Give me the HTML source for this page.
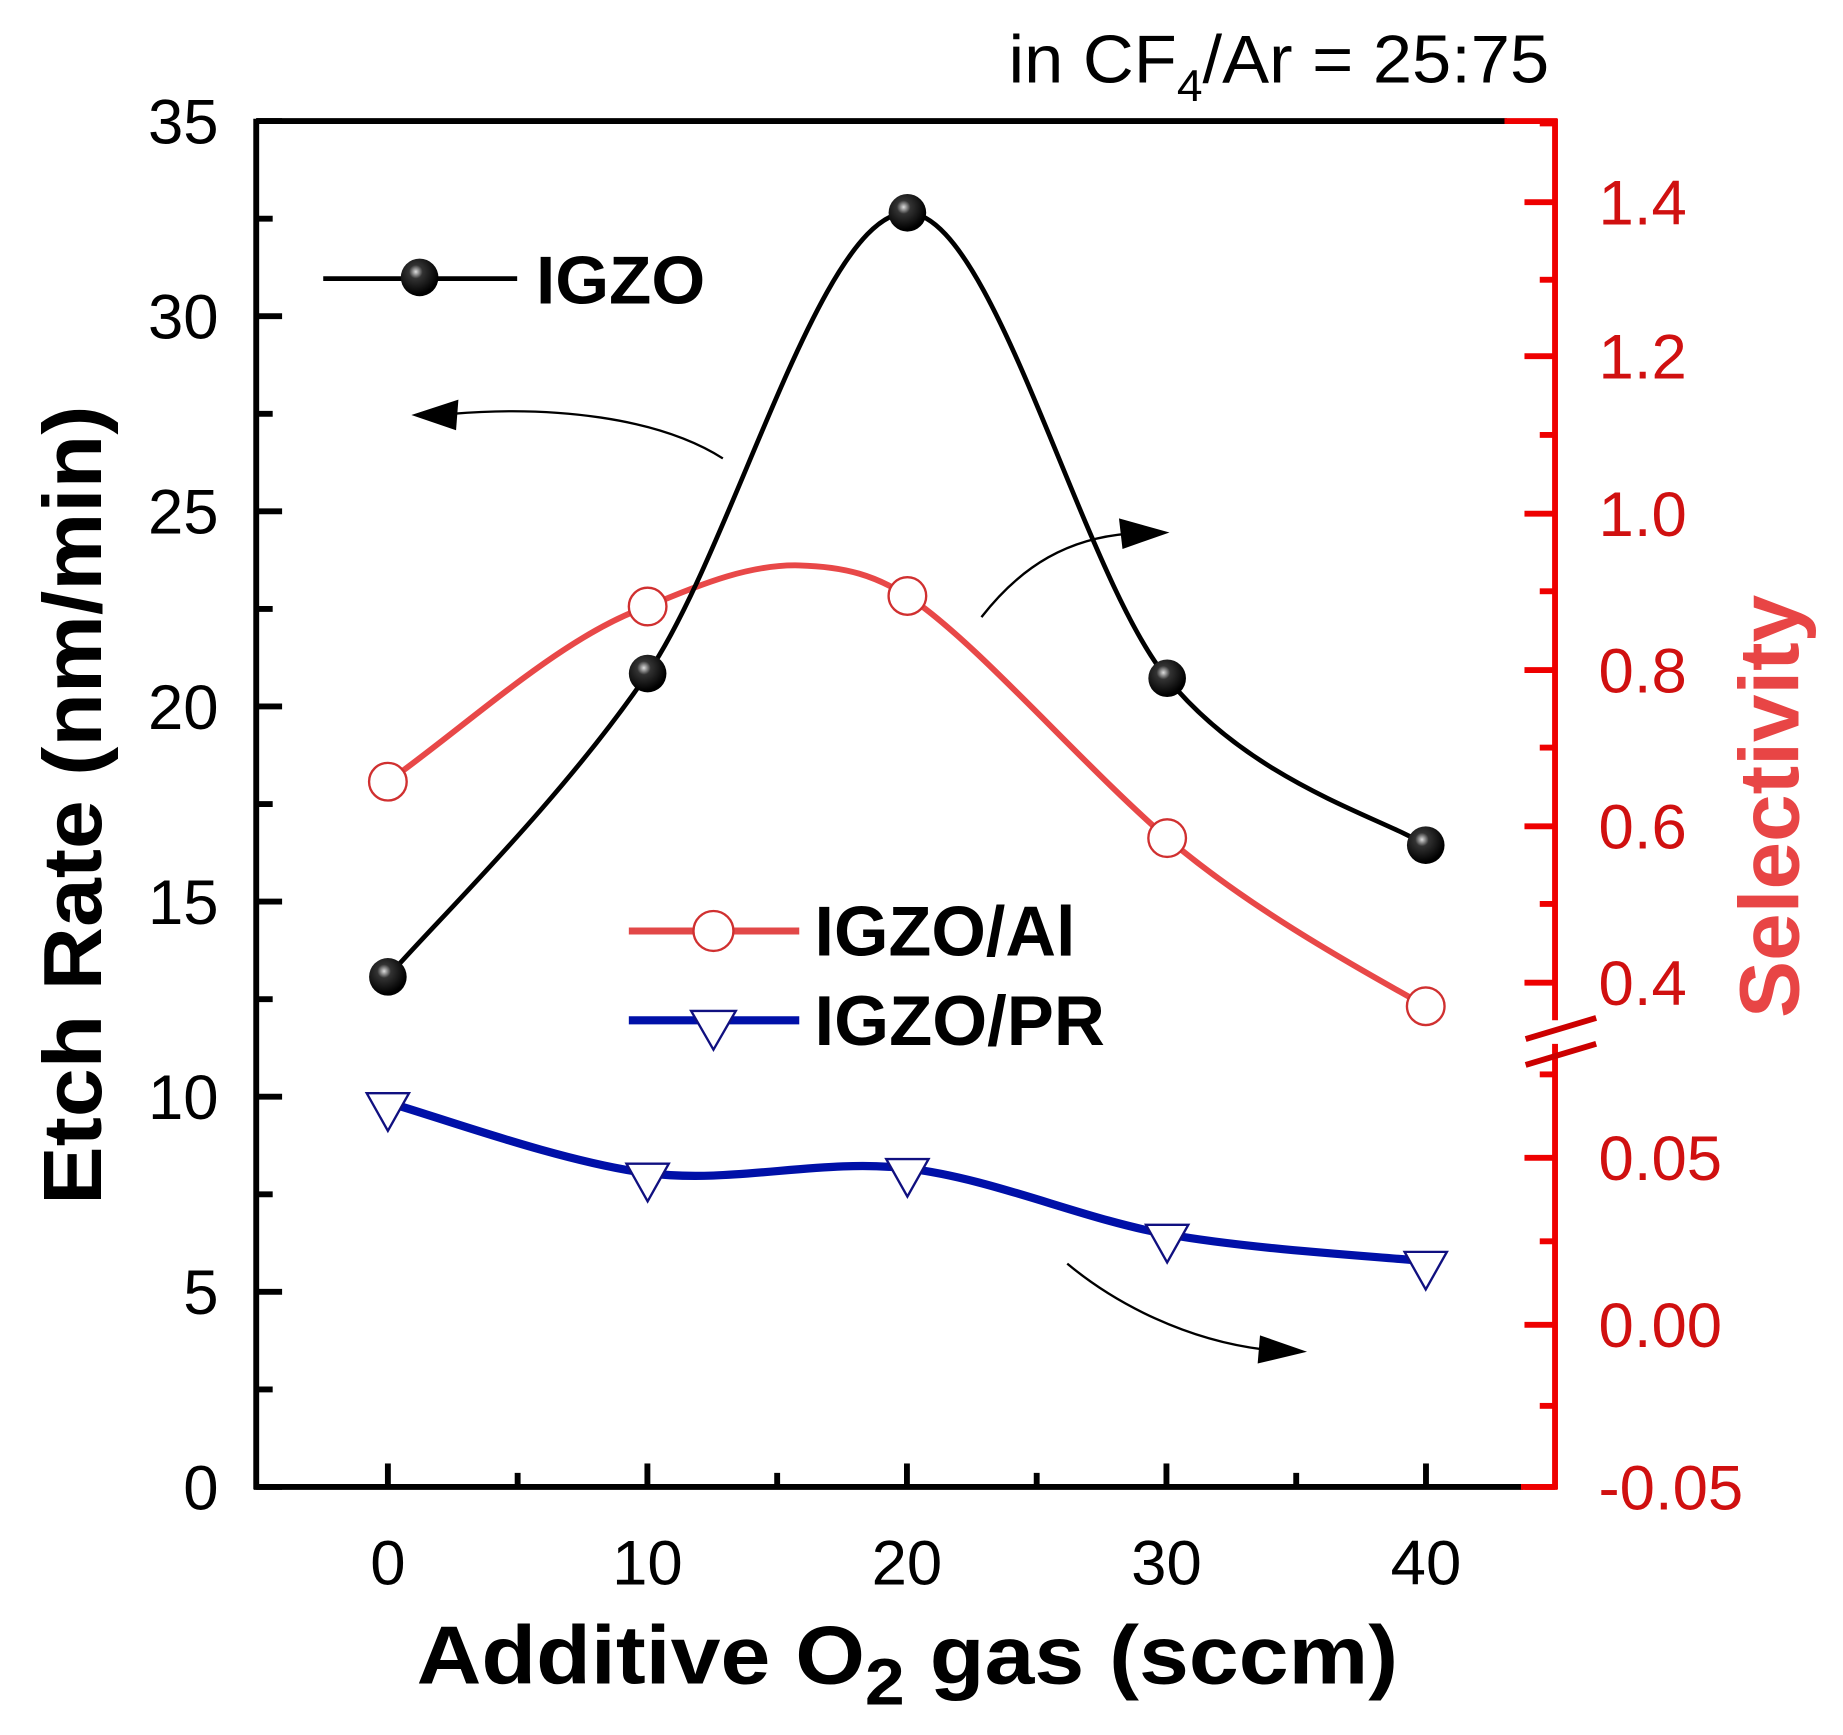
<!DOCTYPE html>
<html><head><meta charset="utf-8"><style>
html,body{margin:0;padding:0;background:#fff;}
svg{display:block;}
</style></head><body>
<svg id="s" width="1843" height="1735" viewBox="0 0 1568 1476" preserveAspectRatio="none" xmlns="http://www.w3.org/2000/svg" font-family="Liberation Sans, Arial, sans-serif">
<defs>
<radialGradient id="ball" cx="0.4" cy="0.35" r="0.6">
<stop offset="0" stop-color="#ddd"/><stop offset="0.3" stop-color="#333"/><stop offset="1" stop-color="#000"/>
</radialGradient>
</defs>
<rect width="1568" height="1476" fill="#fff"/>
<text x="1318" y="70" font-size="58" text-anchor="end" fill="#000" textLength="460" lengthAdjust="spacingAndGlyphs">in CF<tspan font-size="38" dy="16">4</tspan><tspan dy="-16">/Ar = 25:75</tspan></text>
<line x1="218" y1="103" x2="1282" y2="103" stroke="#000" stroke-width="5"/>
<line x1="1280" y1="103" x2="1325" y2="103" stroke="#e00" stroke-width="5"/>
<line x1="218" y1="101" x2="218" y2="1267" stroke="#000" stroke-width="5"/>
<line x1="216" y1="1265" x2="1296" y2="1265" stroke="#000" stroke-width="5"/>
<line x1="1294" y1="1265" x2="1325" y2="1265" stroke="#e00" stroke-width="5"/>
<line x1="1323" y1="101" x2="1323" y2="868" stroke="#e00" stroke-width="5"/>
<line x1="1323" y1="888" x2="1323" y2="1267" stroke="#e00" stroke-width="5"/>
<line x1="1298" y1="884" x2="1358" y2="866" stroke="#c00" stroke-width="5"/>
<line x1="1298" y1="906" x2="1358" y2="888" stroke="#c00" stroke-width="5"/>
<g id="ticks"></g>
<g font-size="54" fill="#000" text-anchor="end" id="ylab"></g>
<g font-size="54" fill="#d01010" id="rlab"></g>
<g font-size="54" fill="#000" text-anchor="middle" id="xlab"></g>
<text transform="translate(86,685) rotate(-90)" font-size="70" font-weight="bold" text-anchor="middle" fill="#000" textLength="680" lengthAdjust="spacingAndGlyphs">Etch Rate (nm/min)</text>
<text transform="translate(1530,686) rotate(-90)" font-size="72" font-weight="bold" text-anchor="middle" fill="#e84545" textLength="360" lengthAdjust="spacingAndGlyphs">Selectivity</text>
<text x="772" y="1432" font-size="70" font-weight="bold" text-anchor="middle" fill="#000" textLength="835" lengthAdjust="spacingAndGlyphs">Additive O<tspan font-size="56" dy="18">2</tspan><tspan dy="-18"> gas (sccm)</tspan></text>
<path d="M615,390 C560,355 470,345 385,352" fill="none" stroke="#000" stroke-width="2"/>
<polygon points="350,353 390,340 388,366" fill="#000"/>
<path d="M835,525 C870,480 910,458 960,454" fill="none" stroke="#000" stroke-width="2"/>
<polygon points="995,453 952,441 955,467" fill="#000"/>
<path d="M908,1075 C950,1110 1010,1140 1075,1148" fill="none" stroke="#000" stroke-width="2"/>
<polygon points="1112,1150 1072,1136 1070,1160" fill="#000"/>
<g id="series">
<path d="M330,665 C400,615 480,540 551,516 C600,495 640,480 680,481 C720,482 745,490 772,507 C830,545 920,650 993,713 C1060,770 1140,815 1213,856" fill="none" stroke="#e84848" stroke-width="5"/>
</g>
<line x1="275" y1="237" x2="440" y2="237" stroke="#000" stroke-width="4"/>
<circle cx="357" cy="236" r="16" fill="url(#ball)"/>
<text x="456" y="258" font-size="58" font-weight="bold" fill="#000" textLength="144" lengthAdjust="spacingAndGlyphs">IGZO</text>
<line x1="535" y1="792" x2="680" y2="792" stroke="#e24848" stroke-width="6"/>
<circle cx="607" cy="792" r="17" fill="#fff" stroke="#d03030" stroke-width="2"/>
<text x="693" y="813" font-size="60" font-weight="bold" fill="#000" textLength="222" lengthAdjust="spacingAndGlyphs">IGZO/Al</text>
<line x1="535" y1="868" x2="680" y2="868" stroke="#0010a8" stroke-width="7"/>
<polygon points="588,860 626,860 607,893" fill="#fff" stroke="#101080" stroke-width="2"/>
<text x="693" y="889" font-size="60" font-weight="bold" fill="#000" textLength="247" lengthAdjust="spacingAndGlyphs">IGZO/PR</text>
</svg>
<script>
var NS="http://www.w3.org/2000/svg";
function el(p,t,a,txt){var e=document.createElementNS(NS,t);for(var k in a)e.setAttribute(k,a[k]);if(txt!==undefined)e.textContent=txt;document.getElementById(p).appendChild(e);return e;}
for(var i=0;i<=14;i++){var y=1265-i*83;if(i%2==0){el('ticks','line',{x1:218,y1:y,x2:240,y2:y,stroke:'#000','stroke-width':5});el('ylab','text',{x:186,y:y+19},String(i*2.5));}else el('ticks','line',{x1:218,y1:y,x2:232,y2:y,stroke:'#000','stroke-width':5});}
for(var i=0;i<=8;i++){var x=330+i*110.4;if(i%2==0){el('ticks','line',{x1:x,y1:1265,x2:x,y2:1245,stroke:'#000','stroke-width':5});el('xlab','text',{x:x,y:1348},String(i*5));}else el('ticks','line',{x1:x,y1:1265,x2:x,y2:1253,stroke:'#000','stroke-width':5});}
var up=[[172,'1.4'],[303,'1.2'],[437,'1.0'],[570,'0.8'],[703,'0.6'],[836,'0.4']];
up.forEach(function(u){el('ticks','line',{x1:1297,y1:u[0],x2:1323,y2:u[0],stroke:'#e00','stroke-width':5});el('rlab','text',{x:1360,y:u[0]+19},u[1]);});
[105,238,370,503,636,769].forEach(function(y){el('ticks','line',{x1:1310,y1:y,x2:1323,y2:y,stroke:'#e00','stroke-width':5});});
var lo=[[985,'0.05',1360],[1127,'0.00',1360],[1265,'-0.05',1360]];
lo.forEach(function(u){el('ticks','line',{x1:1297,y1:u[0],x2:1323,y2:u[0],stroke:'#e00','stroke-width':5});el('rlab','text',{x:u[2],y:u[0]+19},u[1]);});
[914,1056,1196].forEach(function(y){el('ticks','line',{x1:1310,y1:y,x2:1323,y2:y,stroke:'#e00','stroke-width':5});});
function cr(p){var d='M'+p[0][0]+','+p[0][1];for(var i=0;i<p.length-1;i++){var p0=p[i-1]||p[i],p1=p[i],p2=p[i+1],p3=p[i+2]||p2;var c1=[p1[0]+(p2[0]-p0[0])/6,p1[1]+(p2[1]-p0[1])/6],c2=[p2[0]-(p3[0]-p1[0])/6,p2[1]-(p3[1]-p1[1])/6];d+=' C'+c1+' '+c2+' '+p2;}return d;}
var blk=[[330,831],[551,573],[772,181],[993,577],[1213,719]];
var blu=[[330,938],[551,998],[772,994],[993,1050],[1213,1073]];
el('series','path',{d:cr(blu),fill:'none',stroke:'#0010a8','stroke-width':7});
el('series','path',{d:cr(blk),fill:'none',stroke:'#000','stroke-width':4});
[[330,665],[551,516],[772,507],[993,713],[1213,856]].forEach(function(q){el('series','circle',{cx:q[0],cy:q[1],r:16,fill:'#fff',stroke:'#d03030','stroke-width':2});});
blu.forEach(function(q){el('series','polygon',{points:(q[0]-18)+','+(q[1]-8)+' '+(q[0]+18)+','+(q[1]-8)+' '+q[0]+','+(q[1]+24),fill:'#fff',stroke:'#101080','stroke-width':2});});
blk.forEach(function(q){el('series','circle',{cx:q[0],cy:q[1],r:16,fill:'url(#ball)'});});
</script>
</body></html>
